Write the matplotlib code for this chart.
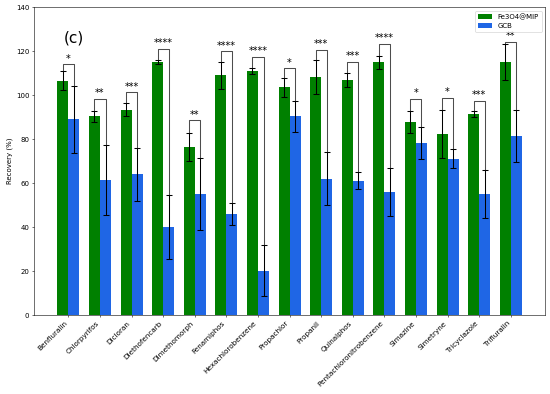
import numpy as np
import matplotlib
matplotlib.use("Agg")
import matplotlib.pyplot as plt

# pesticides
compounds = ["Benfluralin", "Chlorpyrifos", "Dicloran", "Diethofencarb", "Dimethomorph",
             "Fenamiphos", "Hexachlorobenzene", "Propachlor", "Propanil", "Quinalphos",
             "Pentachloronitrobenzene", "Simazine", "Simetryne", "Tricyclazole", "Trifluralin"]

# recovery (%) and standard deviation
mip_mean = [106.5, 90.5, 93.3, 115.0, 76.5, 109.0, 111.0, 103.5, 108.2, 107.0, 115.0, 88.0, 82.4, 91.4, 115.0]
mip_sd = [4.3, 2.5, 3.0, 1.0, 6.3, 6.0, 1.5, 4.5, 7.7, 3.2, 3.0, 5.0, 10.9, 1.2, 8.2]
gcb_mean = [89.0, 61.5, 64.0, 40.0, 55.0, 46.0, 20.3, 90.3, 62.0, 61.2, 56.0, 78.3, 71.2, 55.0, 81.4]
gcb_sd = [15.3, 16.0, 12.0, 14.5, 16.5, 5.0, 11.7, 7.0, 12.0, 3.8, 11.0, 7.3, 4.4, 11.0, 12.0]

# significance level and bracket height
stars = ["*", "**", "***", "****", "**", "****", "****", "*", "***", "***", "****", "*", "*", "***", "**"]
bracket_y = [114.0, 98.3, 101.2, 120.9, 88.5, 119.9, 117.3, 112.1, 120.5, 115.0, 123.2, 98.3, 98.9, 97.3, 124.2]

x = np.arange(len(compounds))
w = 0.35

fig, ax = plt.subplots(figsize=(11, 7.88), dpi=50)
fig.subplots_adjust(left=0.062, right=0.991, top=0.982, bottom=0.2)

ax.bar(x - w / 2, mip_mean, w, yerr=mip_sd, capsize=5, color="green",
       error_kw=dict(elinewidth=1.5, capthick=1.5, ecolor="black"), label="Fe3O4@MIP")
ax.bar(x + w / 2, gcb_mean, w, yerr=gcb_sd, capsize=5, color="#1f66e5",
       error_kw=dict(elinewidth=1.5, capthick=1.5, ecolor="black"), label="GCB")

# significance brackets
for i in range(len(compounds)):
    top_l = mip_mean[i] + mip_sd[i]
    top_r = gcb_mean[i] + gcb_sd[i]
    h = bracket_y[i]
    ax.plot([x[i] - w / 2, x[i] - w / 2, x[i] + w / 2, x[i] + w / 2],
            [top_l, h, h, top_r], color="0.3", lw=1.5, zorder=1)
    ax.text(x[i], h + 0.3, stars[i], ha="center", va="bottom", fontsize=14)

ax.text(0.17, 126, "(c)", ha="center", va="center", fontsize=22)

ax.set_ylim(0, 140)
ax.set_ylabel("Recovery (%)")
ax.set_xticks(x)
ax.set_xticklabels(compounds, rotation=45, ha="right", fontsize=10.5)
ax.legend(loc="upper right")

plt.savefig("out.png", dpi=50)
